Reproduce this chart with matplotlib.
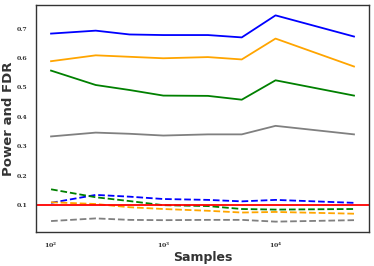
import matplotlib
matplotlib.use('Agg')
import matplotlib.pyplot as plt

samples = [100, 250, 500, 1000, 2500, 5000, 10000, 50000]

power_blue = [0.683, 0.693, 0.680, 0.678, 0.678, 0.670, 0.745, 0.673]
power_orange = [0.589, 0.609, 0.604, 0.599, 0.603, 0.595, 0.666, 0.571]
power_green = [0.557, 0.508, 0.491, 0.472, 0.471, 0.458, 0.524, 0.472]
power_gray = [0.333, 0.346, 0.342, 0.336, 0.340, 0.340, 0.369, 0.340]

fdr_blue = [0.107, 0.134, 0.128, 0.120, 0.117, 0.112, 0.117, 0.107]
fdr_orange = [0.109, 0.103, 0.092, 0.086, 0.080, 0.074, 0.076, 0.070]
fdr_green = [0.153, 0.126, 0.113, 0.099, 0.096, 0.086, 0.084, 0.086]
fdr_gray = [0.045, 0.054, 0.049, 0.048, 0.049, 0.049, 0.043, 0.048]

target_fdr = 0.1

COLORS = ['blue', 'orange', 'green', 'gray']

fig, ax = plt.subplots(figsize=(3.74, 2.66), dpi=100)
fig.patch.set_facecolor('w')

for vals, c in zip([power_blue, power_orange, power_green, power_gray], COLORS):
    ax.plot(samples, vals, color=c, linewidth=1.3)
for vals, c in zip([fdr_blue, fdr_orange, fdr_green, fdr_gray], COLORS):
    ax.plot(samples, vals, color=c, linewidth=1.3, linestyle='--')
ax.axhline(target_fdr, color='red', linewidth=1.3)

ax.set_xscale('log')
ax.minorticks_off()
ax.set_yticks([0.1, 0.2, 0.3, 0.4, 0.5, 0.6, 0.7])

for lbl in ax.get_xticklabels() + ax.get_yticklabels():
    lbl.set_fontfamily('DejaVu Serif')
    lbl.set_fontweight('bold')
    lbl.set_fontsize(4.5)
    lbl.set_color('#333333')
ax.tick_params(length=0, pad=6)

for s in ax.spines.values():
    s.set_color('#333333')
    s.set_linewidth(1.0)

ax.set_xlabel('Samples', fontsize=9, fontweight='bold', labelpad=1, color='#333333')
ax.set_ylabel('Power and FDR', fontsize=9.5, fontweight='bold', labelpad=1, color='#333333')

fig.subplots_adjust(left=0.096, right=0.987, top=0.981, bottom=0.128)
plt.savefig('out.png')
